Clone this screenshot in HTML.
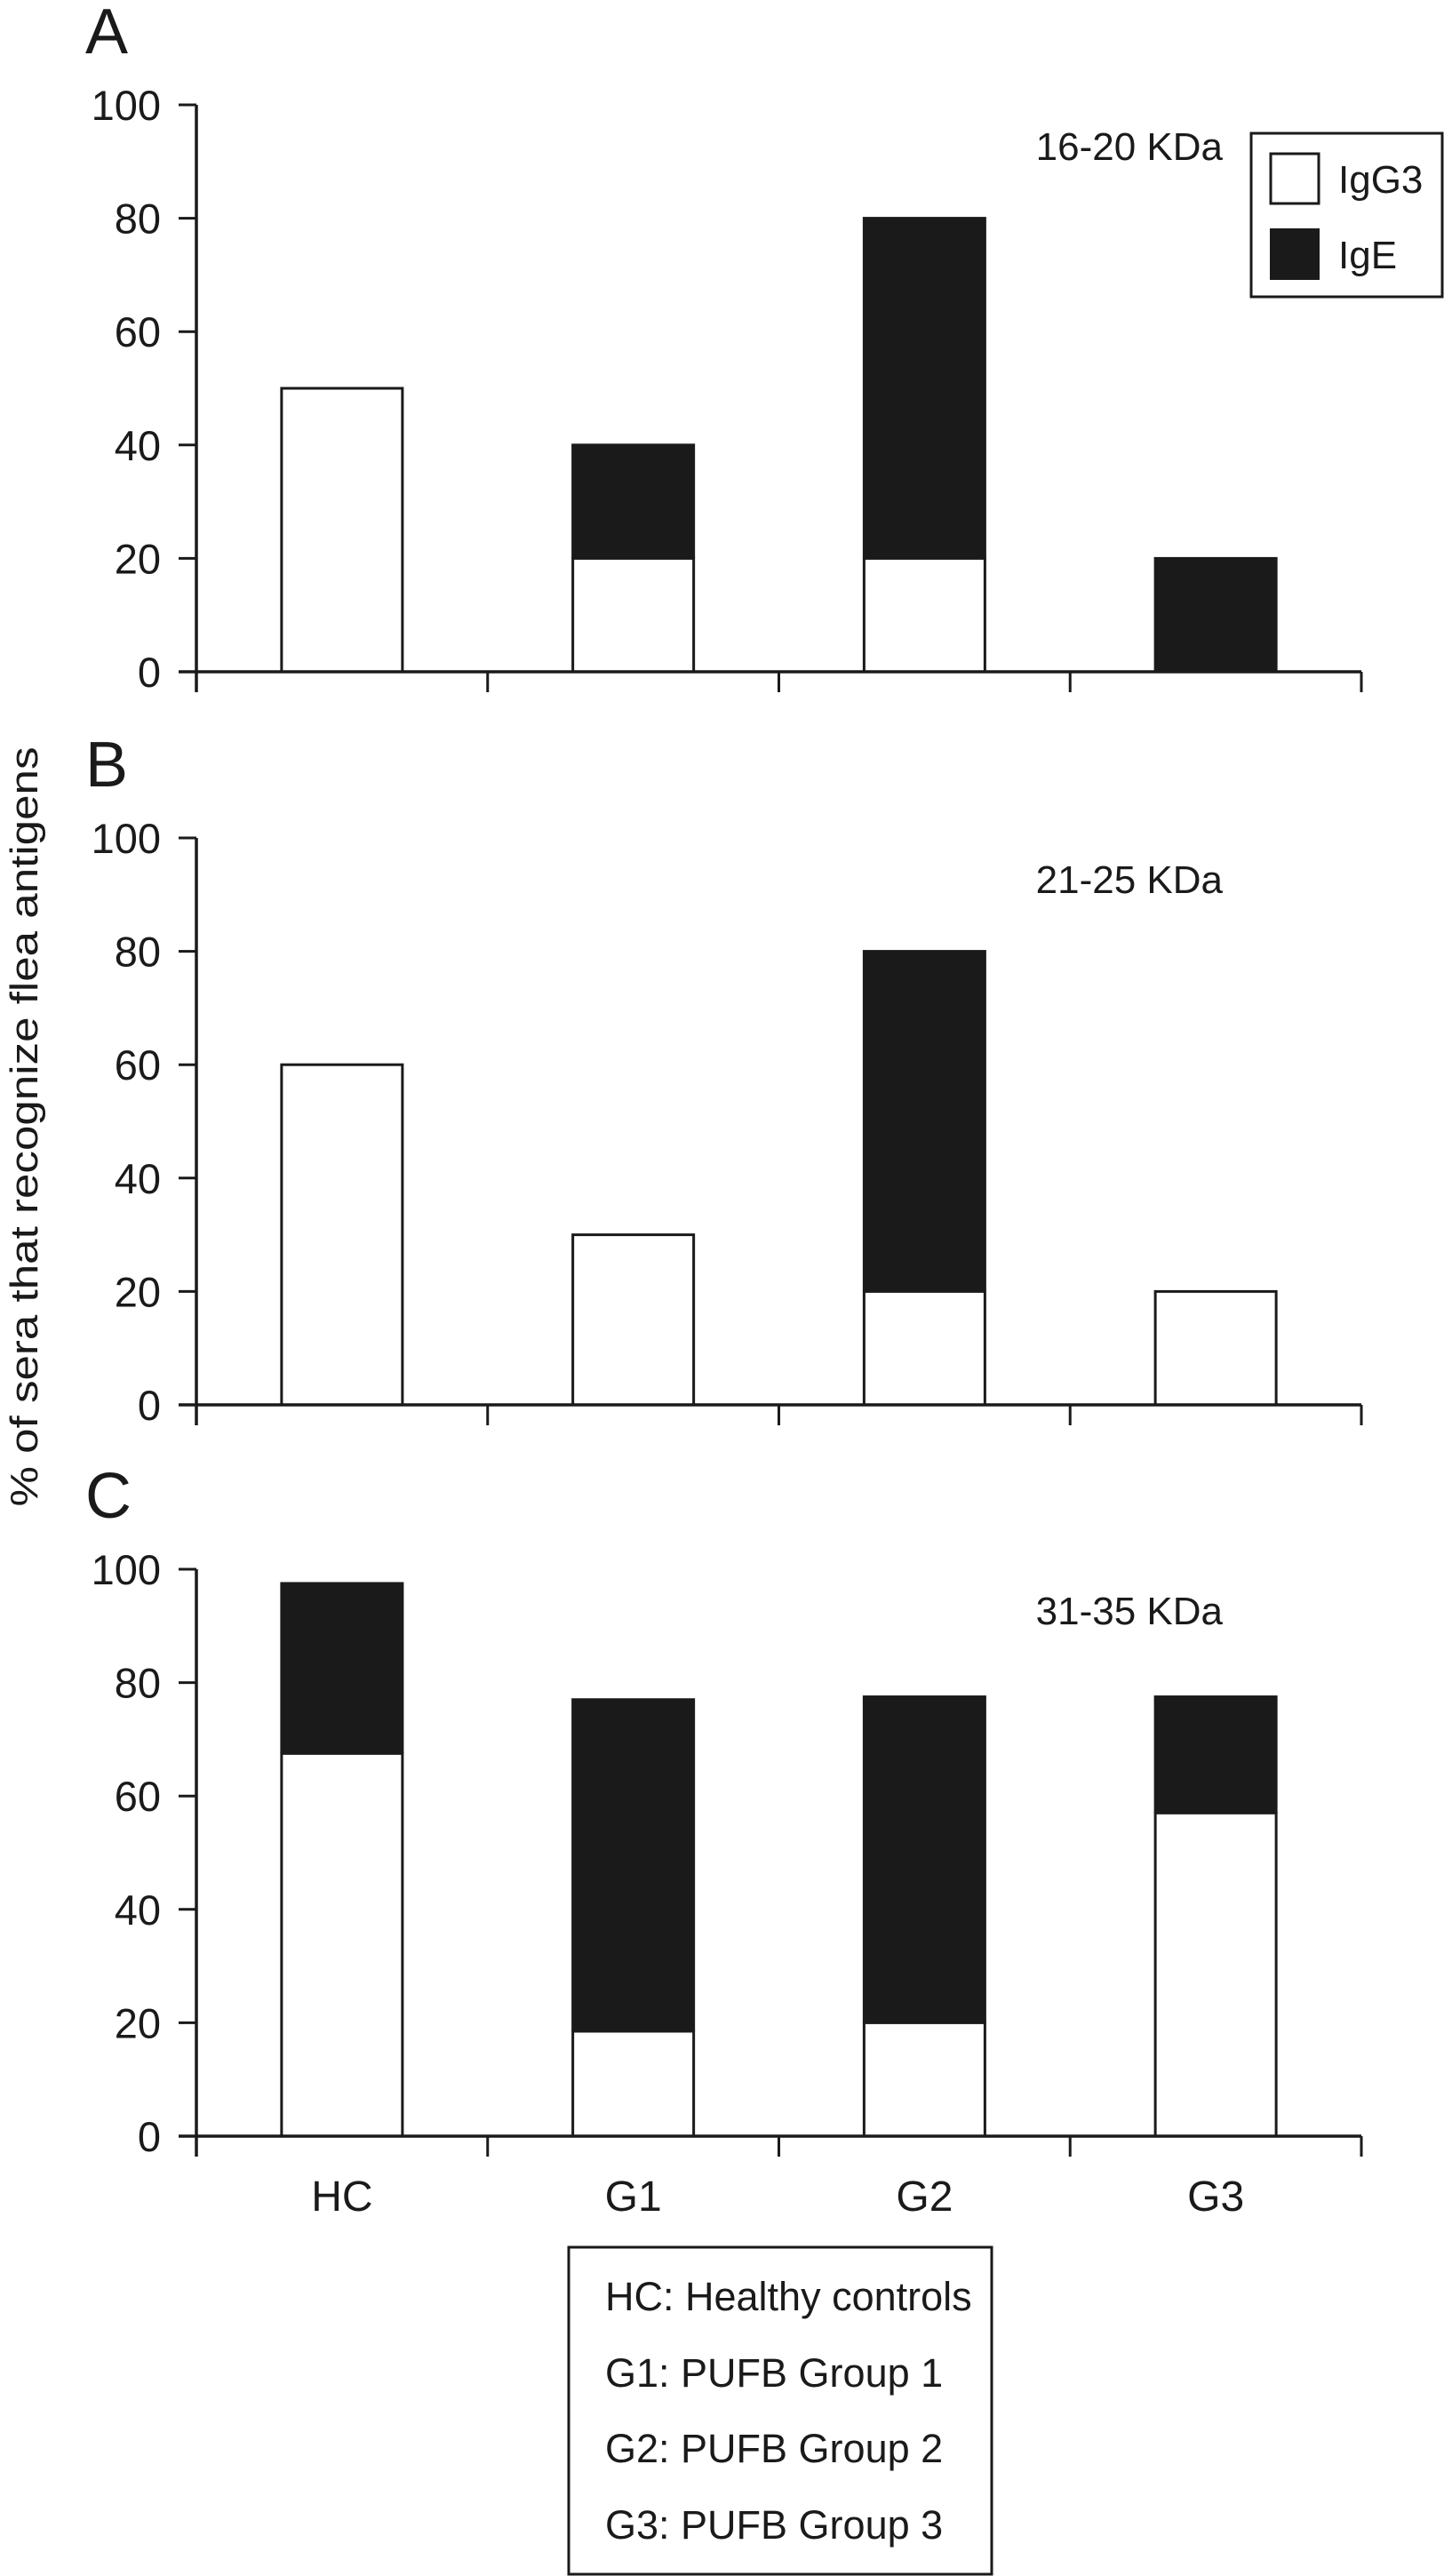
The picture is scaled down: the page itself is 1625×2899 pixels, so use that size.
<!DOCTYPE html>
<html><head><meta charset="utf-8"><style>
html,body{margin:0;padding:0;background:#fff;}
svg{display:block;font-family:"Liberation Sans",Arial,sans-serif;}
</style></head><body>
<svg id="chart" width="1625" height="2899" viewBox="0 0 1625 2899" xmlns="http://www.w3.org/2000/svg">
<text x="0" y="0" transform="translate(42,1268) rotate(-90)" text-anchor="middle" font-size="44" textLength="855" lengthAdjust="spacingAndGlyphs" fill="#1a1a1a">% of sera that recognize flea antigens</text>
<g>
<rect x="1408" y="150" width="215" height="184" fill="#fff" stroke="#1a1a1a" stroke-width="3"/>
<rect x="1430" y="173" width="54" height="56" fill="#fff" stroke="#1a1a1a" stroke-width="3"/>
<text x="1506" y="217" font-size="44" fill="#1a1a1a">IgG3</text>
<rect x="1429" y="257" width="56" height="58" fill="#1a1a1a"/>
<text x="1506" y="302" font-size="44" fill="#1a1a1a">IgE</text>
</g>
<g>
<rect x="640" y="2529" width="476" height="368" fill="#fff" stroke="#1a1a1a" stroke-width="3"/>
<text x="681" y="2600" font-size="45" fill="#1a1a1a">HC: Healthy controls</text>
<text x="681" y="2686" font-size="45" fill="#1a1a1a">G1: PUFB Group 1</text>
<text x="681" y="2771" font-size="45" fill="#1a1a1a">G2: PUFB Group 2</text>
<text x="681" y="2857" font-size="45" fill="#1a1a1a">G3: PUFB Group 3</text>
</g>
</svg>
<script>
const categories = ["HC", "G1", "G2", "G3"];
const panelLetters = ["A", "B", "C"];
const panelTitles = ["16-20 KDa", "21-25 KDa", "31-35 KDa"];
const iggA = [50, 20, 20, 0];
const igeA = [0, 20, 60, 20];
const iggB = [60, 30, 20, 20];
const igeB = [0, 0, 60, 0];
const iggC = [67.5, 18.5, 20, 57];
const igeC = [30, 58.5, 57.5, 20.5];
const yTicks = [0, 20, 40, 60, 80, 100];

const svg = document.getElementById('chart');
const NS = 'http://www.w3.org/2000/svg';
const X0 = 221, X1 = 1532, PLOT_H = 638;
const panelTops = [118, 943, 1766];
const iggs = [iggA, iggB, iggC];
const iges = [igeA, igeB, igeC];
const catW = (X1 - X0) / categories.length;
const barW = 136;
function mk(tag, attrs) {
  const e = document.createElementNS(NS, tag);
  for (const k in attrs) e.setAttribute(k, attrs[k]);
  svg.appendChild(e);
  return e;
}
panelTops.forEach((top, p) => {
  const y0 = top + PLOT_H;
  const yScale = v => y0 - v / 100 * PLOT_H;
  const xBand = i => X0 + catW * i + catW / 2;
  const letter = mk('text', {x: 96, y: top - 58, 'font-size': 72, fill: '#1a1a1a'});
  
  
  letter.textContent = panelLetters[p];
  const title = mk('text', {x: 1376, y: top + 62, 'font-size': 44, 'text-anchor': 'end', fill: '#1a1a1a'});
  
  
  title.textContent = panelTitles[p];
  // bars
  categories.forEach((c, i) => {
    const g = iggs[p][i], e = iges[p][i];
    const bx = xBand(i) - barW / 2;
    if (g > 0) {
      const r = mk('rect', {x: bx, y: yScale(g), width: barW, height: yScale(0) - yScale(g), fill: '#fff', stroke: '#1a1a1a', 'stroke-width': 3});
      
      
    }
    if (e > 0) {
      const r = mk('rect', {x: bx - 1.5, y: yScale(g + e) - 1.5, width: barW + 3, height: yScale(g) - yScale(g + e) + 1.5, fill: '#1a1a1a'});
      
      
    }
  });
  // axes
  const ya = mk('line', {x1: X0, y1: yScale(100), x2: X0, y2: y0 + 23, stroke: '#1a1a1a', 'stroke-width': 3.5});
  
  
  const xa = mk('line', {x1: X0 - 20, y1: y0, x2: X1, y2: y0, stroke: '#1a1a1a', 'stroke-width': 3.5});
  
  
  for (let i = 1; i <= categories.length; i++) {
    const tx = X0 + catW * i;
    const t = mk('line', {x1: tx, y1: y0, x2: tx, y2: y0 + 23, stroke: '#1a1a1a', 'stroke-width': 3});
    
    
  }
  yTicks.forEach(v => {
    const yy = yScale(v);
    const t = mk('line', {x1: X0 - 20, y1: yy, x2: X0, y2: yy, stroke: '#1a1a1a', 'stroke-width': 3});
    
    
    const l = mk('text', {x: 181, y: yy + 17, 'font-size': 47, 'text-anchor': 'end', fill: '#1a1a1a'});
    
    
    l.textContent = v;
  });
  if (p === 2) {
    categories.forEach((c, i) => {
      const l = mk('text', {x: xBand(i), y: y0 + 84, 'font-size': 48, 'text-anchor': 'middle', fill: '#1a1a1a'});
      
      
      l.textContent = c;
    });
  }
});
</script>
</body></html>
